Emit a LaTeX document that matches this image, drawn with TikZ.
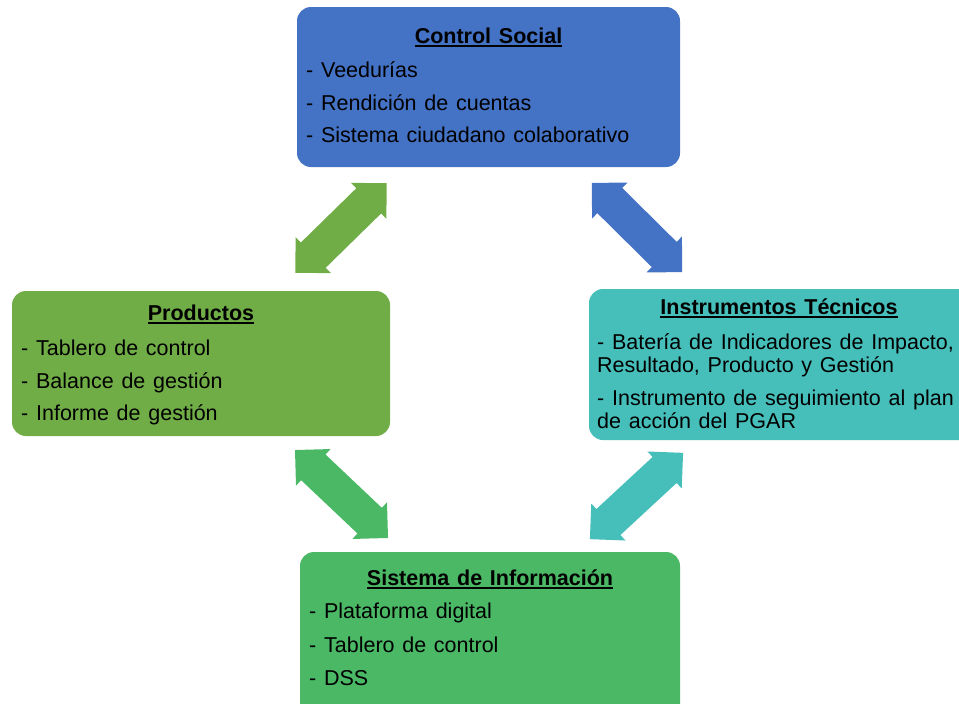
\documentclass[tikz,border=0pt]{standalone}
\usepackage{fontspec}
\setmainfont{Liberation Sans}
\usetikzlibrary{shapes.arrows}
\definecolor{csblue}{HTML}{4472C4}
\definecolor{prgreen}{HTML}{70AD47}
\definecolor{itteal}{HTML}{46BFBB}
\definecolor{sigreen}{HTML}{4AB865}
\newsavebox\ulbox
\newcommand\ulx[1]{\sbox\ulbox{#1}\rlap{\rule[-3.5pt]{\wd\ulbox}{1.8pt}}\usebox\ulbox}
\newcommand\wsp{\spaceskip 0.36em\relax}
\newcommand\itmfont{\fontsize{21.5}{25}\selectfont\wsp}
\newcommand\ttlfont{\fontsize{21.5}{25}\selectfont\bfseries\wsp}
\begin{document}
\begin{tikzpicture}[x=1pt,y=-1pt,
  box/.style={rectangle, rounded corners=14pt, draw=none, inner sep=0pt},
  ttl/.style={anchor=base, inner sep=0pt, font=\ttlfont},
  itm/.style={anchor=base west, inner sep=0pt, font=\itmfont},
  dbl/.style={double arrow, double arrow head extend=7.5pt, double arrow tip angle=90,
              inner xsep=0pt, inner ysep=17.5pt, minimum width=50pt, draw=none}]
\useasboundingbox (0,0) rectangle (959,704);
\clip (0,0) rectangle (959,704);
% boxes
\node[box, fill=csblue, minimum width=383pt, minimum height=160pt] (cs) at (488.5,87) {};
\node[box, fill=prgreen, minimum width=378pt, minimum height=145pt] (pr) at (201,363.5) {};
\node[box, fill=itteal, minimum width=386pt, minimum height=151pt] (it) at (782,364.5) {};
\node[box, fill=sigreen, minimum width=380pt, minimum height=166pt] (si) at (490,635) {};
% arrows
\node[dbl, fill=prgreen, minimum height=128pt, rotate=44.4] (a1) at (341,228) {};
\node[dbl, fill=csblue, minimum height=127pt, rotate=-44.7] (a2) at (637,227.5) {};
\node[dbl, fill=sigreen, minimum height=128pt, rotate=-43.4] (a3) at (341.5,494) {};
\node[dbl, fill=itteal, minimum height=127pt, rotate=42.8] (a4) at (636.5,496) {};
% Control Social
\node[ttl] (cst) at (488.5,43) {\ulx{Control Social}};
\node[itm] (cs1) at (306,77) {- Veedurías};
\node[itm] (cs2) at (306,110) {- Rendición de cuentas};
\node[itm] (cs3) at (306,142) {- Sistema ciudadano colaborativo};
% Productos
\node[ttl] (prt) at (201,320) {\ulx{Productos}};
\node[itm] (pr1) at (21,355) {- Tablero de control};
\node[itm] (pr2) at (21,388) {- Balance de gestión};
\node[itm] (pr3) at (21,420) {- Informe de gestión};
% Instrumentos
\node[ttl] (itt) at (779,314) {\ulx{Instrumentos Técnicos}};
\node[itm] (it1) at (597,349) {- Batería de Indicadores de Impacto,};
\node[itm] (it2) at (597,372) {Resultado, Producto y Gestión};
\node[itm] (it3) at (597,405) {- Instrumento de seguimiento al plan};
\node[itm] (it4) at (597,428) {de acción del PGAR};
% Sistema
\node[ttl] (sit) at (490,585) {\ulx{Sistema de Información}};
\node[itm] (si1) at (309,618) {- Plataforma digital};
\node[itm] (si2) at (309,652) {- Tablero de control};
\node[itm] (si3) at (309,685) {- DSS};
\end{tikzpicture}
\end{document}
